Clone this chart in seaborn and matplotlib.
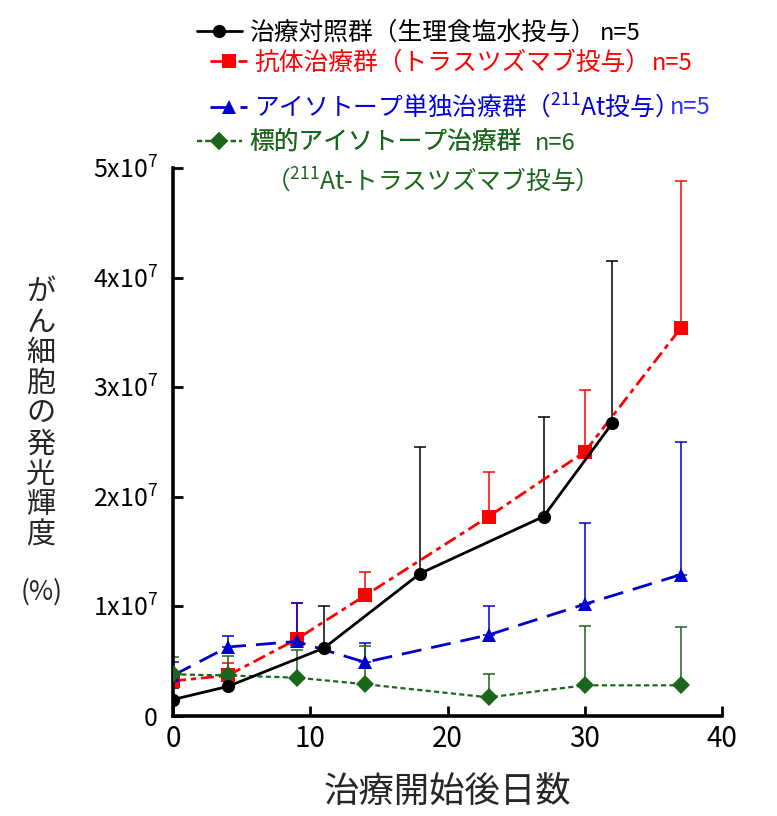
import numpy as np
import pandas as pd
import seaborn as sns
import matplotlib
matplotlib.use("Agg")
import matplotlib.pyplot as plt
from matplotlib.ticker import FuncFormatter

# --- データ（値は x10^7 単位で読み取り） ---
groups = ["control", "antibody", "isotope", "targeted"]

days_control = [0, 4, 11, 18, 27, 32]
mean_control = [0.15, 0.27, 0.62, 1.30, 1.82, 2.67]
top_control = [0.26, 0.35, 1.00, 2.45, 2.73, 4.15]

days_antibody = [0, 4, 9, 14, 23, 30, 37]
mean_antibody = [0.32, 0.37, 0.70, 1.10, 1.82, 2.41, 3.54]
top_antibody = [0.38, 0.48, 1.03, 1.31, 2.23, 2.97, 4.88]

days_isotope = [0, 4, 9, 14, 23, 30, 37]
mean_isotope = [0.37, 0.63, 0.68, 0.49, 0.74, 1.02, 1.29]
top_isotope = [0.49, 0.73, 1.03, 0.67, 1.00, 1.76, 2.50]

days_targeted = [0, 4, 9, 14, 23, 30, 37]
mean_targeted = [0.38, 0.37, 0.35, 0.29, 0.17, 0.28, 0.28]
top_targeted = [0.54, 0.55, 0.60, 0.64, 0.38, 0.82, 0.81]

labels = ["治療対照群（生理食塩水投与）",
          "抗体治療群（トラスツズマブ投与）",
          "アイソトープ単独治療群（$^{211}$At投与）",
          "標的アイソトープ治療群"]
n_labels = ["n=5", "n=5", "n=5", "n=6"]
label_extra = "（$^{211}$At-トラスツズマブ投与）"
xlabel = "治療開始後日数"
ylabel = "がん細胞の発光輝度"
ylabel_unit = "(%)"
xticks = [0, 10, 20, 30, 40]
yticks = [0, 1, 2, 3, 4, 5]

colors = {"control": "black", "antibody": "#ff0000",
          "isotope": "#0000cc", "targeted": "#1a661a"}
text_colors = ["black", "#ff0000", "#0000dd", "#1a661a"]
n_colors = ["black", "#ff0000", "#3030ff", "#1a661a"]
markers = {"control": "o", "antibody": "s", "isotope": "^", "targeted": "D"}
dashes = {"control": "", "antibody": (4.7, 1.8, 1.8, 1.8),
          "isotope": (7.2, 3.6), "targeted": (2.3, 1.5)}

series = {
    "control": (days_control, mean_control, top_control),
    "antibody": (days_antibody, mean_antibody, top_antibody),
    "isotope": (days_isotope, mean_isotope, top_isotope),
    "targeted": (days_targeted, mean_targeted, top_targeted),
}

rows = []
for g in groups:
    d, m, t = series[g]
    for x, y in zip(d, m):
        rows.append({"day": x, "value": y * 1e7, "group": g})
df = pd.DataFrame(rows)

sns.set_theme(style="ticks")
plt.rcParams['font.family'] = ['Noto Sans CJK JP', 'DejaVu Sans']
plt.rcParams['mathtext.fontset'] = 'custom'
plt.rcParams['mathtext.rm'] = 'Noto Sans CJK JP'

fig = plt.figure(figsize=(7.77, 8.16), dpi=100)
ax = fig.add_axes([173 / 777, 100 / 816, 549 / 777, 548 / 816])

# 誤差棒（上側のみ）
for g in groups:
    d, m, t = series[g]
    m = np.array(m) * 1e7
    t = np.array(t) * 1e7
    ax.errorbar(d, m, yerr=[np.zeros_like(m), t - m], fmt='none',
                ecolor=colors[g], elinewidth=1.1, capsize=4.3, capthick=1.1, zorder=1)

sns.lineplot(data=df, x="day", y="value", hue="group", style="group",
             hue_order=groups, style_order=groups, palette=colors,
             markers=markers, dashes=dashes, linewidth=2.0, markersize=9.5,
             markeredgewidth=0, errorbar=None, legend=False, ax=ax)

# 重なり順: 赤 < 青 < 緑 < 黒
for line, z in zip(ax.lines[-4:], [5, 2, 3, 4]):
    line.set_zorder(z)
ax.lines[-1].set_linewidth(1.6)

ax.set_xlim(0, 40)
ax.set_ylim(0, 5e7)
ax.set_xticks(xticks)
ax.set_yticks([v * 1e7 for v in yticks])
ax.yaxis.set_major_formatter(FuncFormatter(
    lambda v, p: "0" if v == 0 else f"{int(round(v / 1e7))}x10$^{{7}}$"))
sns.despine(ax=ax)
for s in ["left", "bottom"]:
    ax.spines[s].set_linewidth(2.6)
    ax.spines[s].set_color("black")
ax.tick_params(axis='both', direction='in', length=7, width=2, labelsize=18,
               colors='black')
ax.tick_params(axis='y', pad=11)
ax.tick_params(axis='x', pad=6, labelsize=20)
ax.set_xlabel(xlabel, fontsize=25.5, labelpad=14)
ax.set_ylabel("")

fig.text(41 / 777, 1 - 414 / 816, "\n".join(ylabel), ha='center', va='center',
         fontsize=21, linespacing=1.02)
fig.text(42 / 777, 1 - 592 / 816, ylabel_unit, ha='center', va='center', fontsize=19)

# 凡例（行ごと）
leg_lines = ax.lines[-4:]
row_y = [33, 63, 107, 143]
row_x = [197, 210, 210, 197]
row_hl = [1.8, 1.5, 1.5, 1.8]
n_gap = [4, 1, 6, 14]
legs = []
for i in range(4):
    leg = ax.legend([leg_lines[i]], [labels[i]], loc='center left',
                    bbox_to_anchor=(row_x[i] / 777, 1 - row_y[i] / 816),
                    bbox_transform=fig.transFigure, frameon=False, borderpad=0,
                    borderaxespad=0, handlelength=row_hl[i], handletextpad=0.3,
                    fontsize=17.8, labelcolor=text_colors[i], numpoints=1)
    ax.add_artist(leg)
    legs.append(leg)
fig.text(265 / 777, 1 - 181 / 816, label_extra, ha='left', va='center',
         fontsize=17.8, color=text_colors[3])

# n= の位置は凡例テキストの右端から
fig.canvas.draw()
renderer = fig.canvas.get_renderer()
for i, leg in enumerate(legs):
    right = leg.get_texts()[0].get_window_extent(renderer).x1
    fig.text((right + n_gap[i]) / 777, 1 - row_y[i] / 816, n_labels[i], ha='left',
             va='center', fontsize=17, color=n_colors[i])

fig.savefig("out.png", dpi=100)
